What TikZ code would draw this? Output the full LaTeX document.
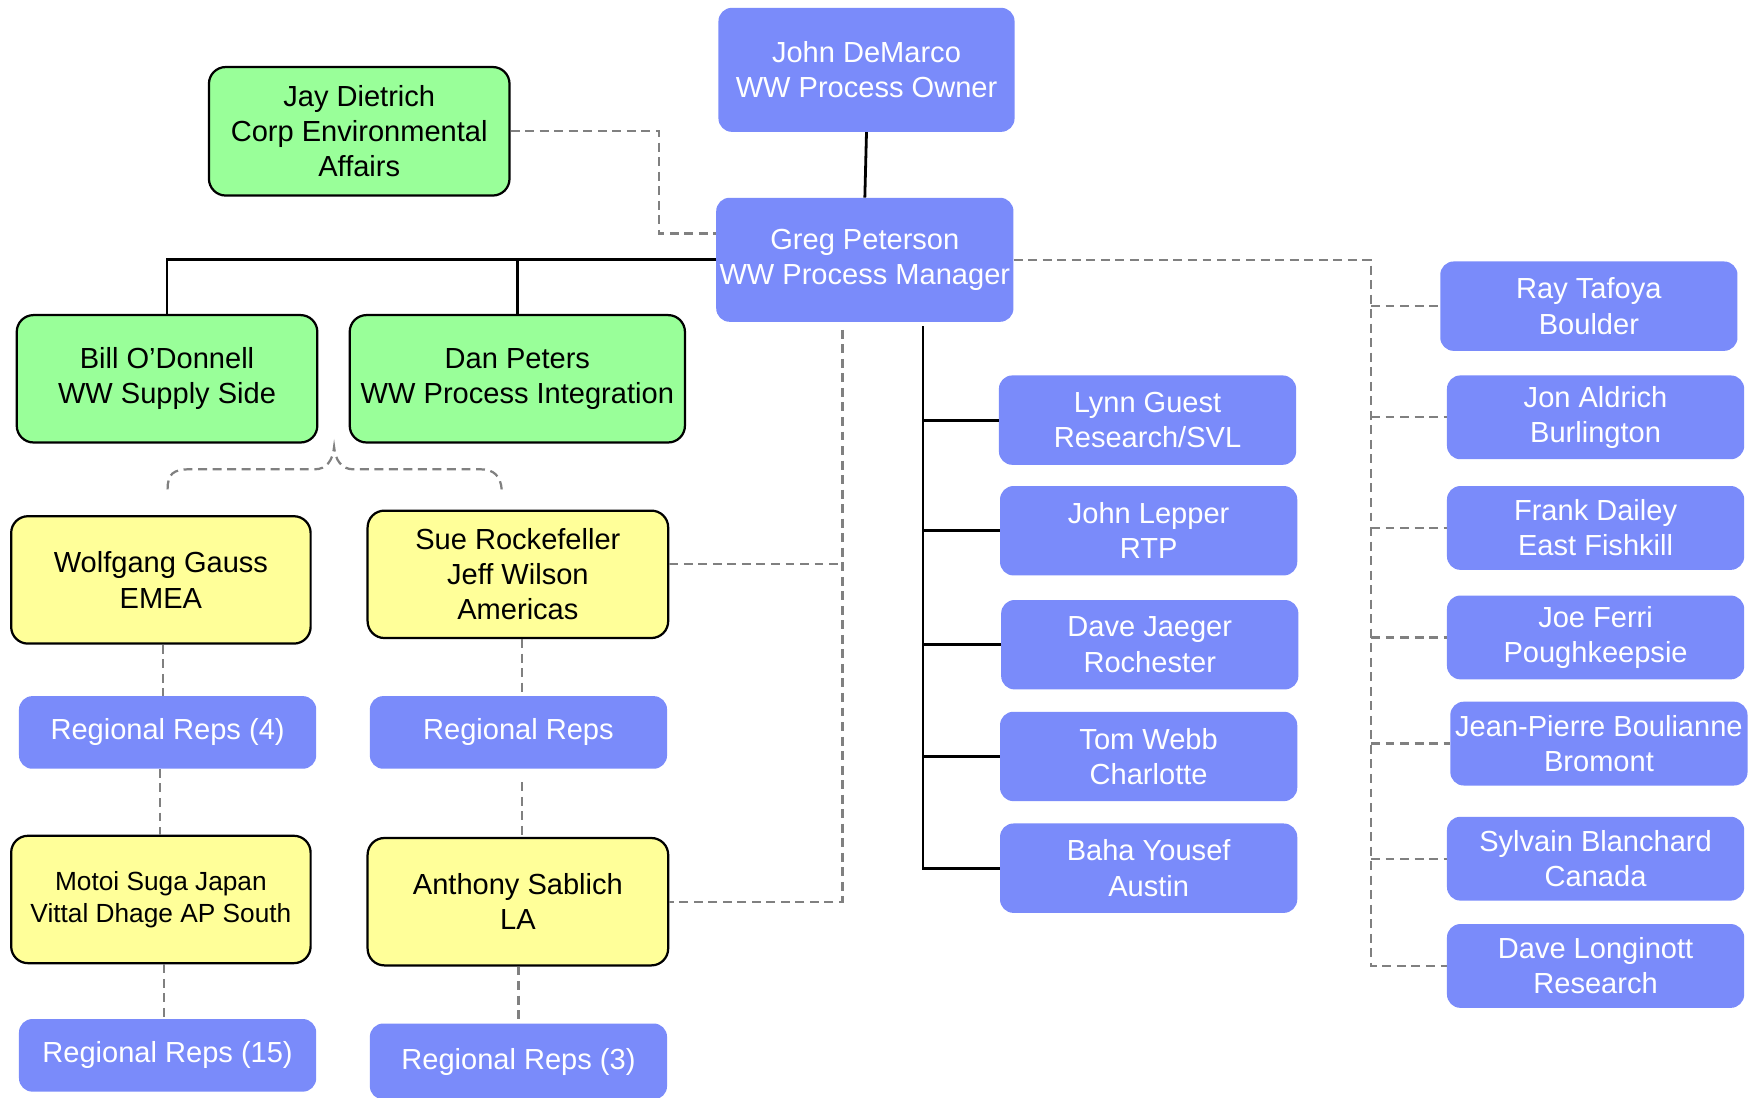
\documentclass[tikz,border=0pt]{standalone}
\usepackage{fontspec}
\setmainfont{Liberation Sans}
\usetikzlibrary{calc}
\definecolor{boxblue}{RGB}{122,139,250}
\definecolor{boxgreen}{RGB}{153,255,153}
\definecolor{boxyellow}{RGB}{255,255,153}
\definecolor{dashgray}{RGB}{128,128,128}
\tikzset{
  basebox/.style={rectangle, inner sep=0pt, align=center, font=\fontsize{26}{31.5}\selectfont},
  bluebox/.style={basebox, rounded corners=12pt, fill=boxblue, draw=none, text=white},
  greenbox/.style={basebox, rounded corners=15pt, fill=boxgreen, draw=black, line width=2pt},
  yellowbox/.style={basebox, rounded corners=15pt, fill=boxyellow, draw=black, line width=2pt},
  solidline/.style={draw=black, line width=2.5pt},
  dashline/.style={draw=dashgray, line width=2pt, dash pattern=on 8pt off 5pt},
}
\begin{document}
\begin{tikzpicture}[x=1pt,y=-1pt]
\useasboundingbox (0,0) rectangle (1568,982);
% top
\node[bluebox, minimum width=265pt, minimum height=111pt] (demarco) at (775.5,62.5) {John DeMarco\\WW Process Owner};
\node[greenbox, minimum width=269pt, minimum height=115pt] (jay) at (321.5,117.5) {Jay Dietrich\\Corp Environmental\\Affairs};
\node[bluebox, minimum width=266pt, minimum height=111pt] (greg) at (774,232.5) {Greg Peterson\\WW Process Manager};
% left green
\node[greenbox, minimum width=269pt, minimum height=114pt] (bill) at (149.5,339) {Bill O’Donnell\\WW Supply Side};
\node[greenbox, minimum width=300pt, minimum height=114pt] (dan) at (463,339) {Dan Peters\\WW Process Integration};
% yellow
\node[yellowbox, minimum width=268pt, minimum height=114pt] (wolf) at (144,519) {Wolfgang Gauss\\EMEA};
\node[yellowbox, minimum width=269pt, minimum height=114pt] (sue) at (463.5,514) {Sue Rockefeller\\Jeff Wilson\\Americas};
\node[bluebox, minimum width=266pt, minimum height=65pt] (rr4) at (150,655.5) {Regional Reps (4)};
\node[bluebox, minimum width=266pt, minimum height=65pt] (rr) at (464,655.5) {Regional Reps};
\node[yellowbox, minimum width=268pt, minimum height=114pt, font=\fontsize{23.5}{29}\selectfont] (motoi) at (144,805) {Motoi Suga Japan\\Vittal Dhage AP South};
\node[yellowbox, minimum width=269pt, minimum height=114pt] (anthony) at (463.5,807) {Anthony Sablich\\LA};
\node[bluebox, minimum width=266pt, minimum height=65pt] (rr15) at (150,944.5) {Regional Reps (15)};
\node[bluebox, minimum width=266pt, minimum height=68pt] (rr3) at (464,950) {Regional Reps (3)};
% middle column
\node[bluebox, minimum width=266pt, minimum height=80pt] (lynn) at (1027,376) {Lynn Guest\\Research/SVL};
\node[bluebox, minimum width=266pt, minimum height=80pt] (lepper) at (1028,475) {John Lepper\\RTP};
\node[bluebox, minimum width=266pt, minimum height=80pt] (jaeger) at (1029,577) {Dave Jaeger\\Rochester};
\node[bluebox, minimum width=266pt, minimum height=80pt] (webb) at (1028,677) {Tom Webb\\Charlotte};
\node[bluebox, minimum width=266pt, minimum height=80pt] (baha) at (1028,777) {Baha Yousef\\Austin};
% right column
\node[bluebox, minimum width=266pt, minimum height=80pt] (ray) at (1422,274) {Ray Tafoya\\Boulder};
\node[bluebox, minimum width=266pt, minimum height=75pt] (jon) at (1428,373.5) {Jon Aldrich\\Burlington};
\node[bluebox, minimum width=266pt, minimum height=75pt] (frank) at (1428,472.5) {Frank Dailey\\East Fishkill};
\node[bluebox, minimum width=266pt, minimum height=75pt] (joe) at (1428,570.5) {Joe Ferri\\Poughkeepsie};
\node[bluebox, minimum width=266pt, minimum height=75pt] (jp) at (1431,665.5) {Jean-Pierre Boulianne\\Bromont};
\node[bluebox, minimum width=266pt, minimum height=75pt] (sylvain) at (1428,768.5) {Sylvain Blanchard\\Canada};
\node[bluebox, minimum width=266pt, minimum height=75pt] (dl) at (1428,864.5) {Dave Longinott\\Research};
% bus coordinates
\coordinate (rb) at (1227,0);
\coordinate (sb) at (826,0);
\coordinate (db) at (754,0);
% connectors
\draw[solidline] (demarco.south) -- (greg.north);
\draw[dashline] (jay.east) -| ($(greg.west)+(-51,-23.5)$) -- ($(greg.west)+(0,-23.5)$);
\draw[solidline] (greg.west) -| (bill.north);
\draw[solidline] (dan.north) -- (dan.north |- greg.west);
% right dashed bus
\draw[dashline] (greg.east) -- (rb |- greg.east) -- (rb |- dl.west) -- (dl.west);
\foreach \n in {ray,jon,frank,joe,jp,sylvain}{
  \draw[dashline] (rb |- \n.west) -- (\n.west);
}
% solid bus
\draw[solidline] ($(sb |- greg.south)+(0,4)$) -- (sb |- baha.west) -- (baha.west);
\foreach \n in {lynn,lepper,jaeger,webb}{
  \draw[solidline] (sb |- \n.west) -- (\n.west);
}
% dashed bus to regions
\draw[dashline] ($(db |- greg.south)+(0,7)$) -- (db |- anthony.east) -- (anthony.east);
\draw[dashline] ($(sue.east)+(0,-9)$) -- ($(db |- sue.east)+(0,-9)$);
% brace
\coordinate (braceL) at (150,438);
\coordinate (braceT) at (299,400);
\coordinate (braceR) at (449,438);
\draw[dashline] (braceL) .. controls (150,424) and (155,420) .. (170,420) -- (282,420)
  .. controls (292,420) and (298,412) .. (braceT)
  .. controls (300,412) and (306,420) .. (316,420) -- (430,420)
  .. controls (442,420) and (448,426) .. (braceR);
% column dashed links
\draw[dashline] ($(wolf.south)+(2,0)$) -- ($(rr4.north)+(-4,0)$);
\draw[dashline] ($(rr4.south)+(-7,0)$) -- ($(motoi.north)+(-1,0)$);
\draw[dashline] ($(motoi.south)+(3,0)$) -- ($(rr15.north)+(-3,0)$);
\draw[dashline] ($(sue.south)+(3.5,0)$) -- ($(rr.north)+(3,0)$);
\draw[dashline] ($(rr.south)+(3,12)$) -- ($(anthony.north)+(3.5,0)$);
\draw[dashline] ($(anthony.south)+(0.5,0)$) -- ($(rr3.north)+(0,0)$);
\end{tikzpicture}
\end{document}
